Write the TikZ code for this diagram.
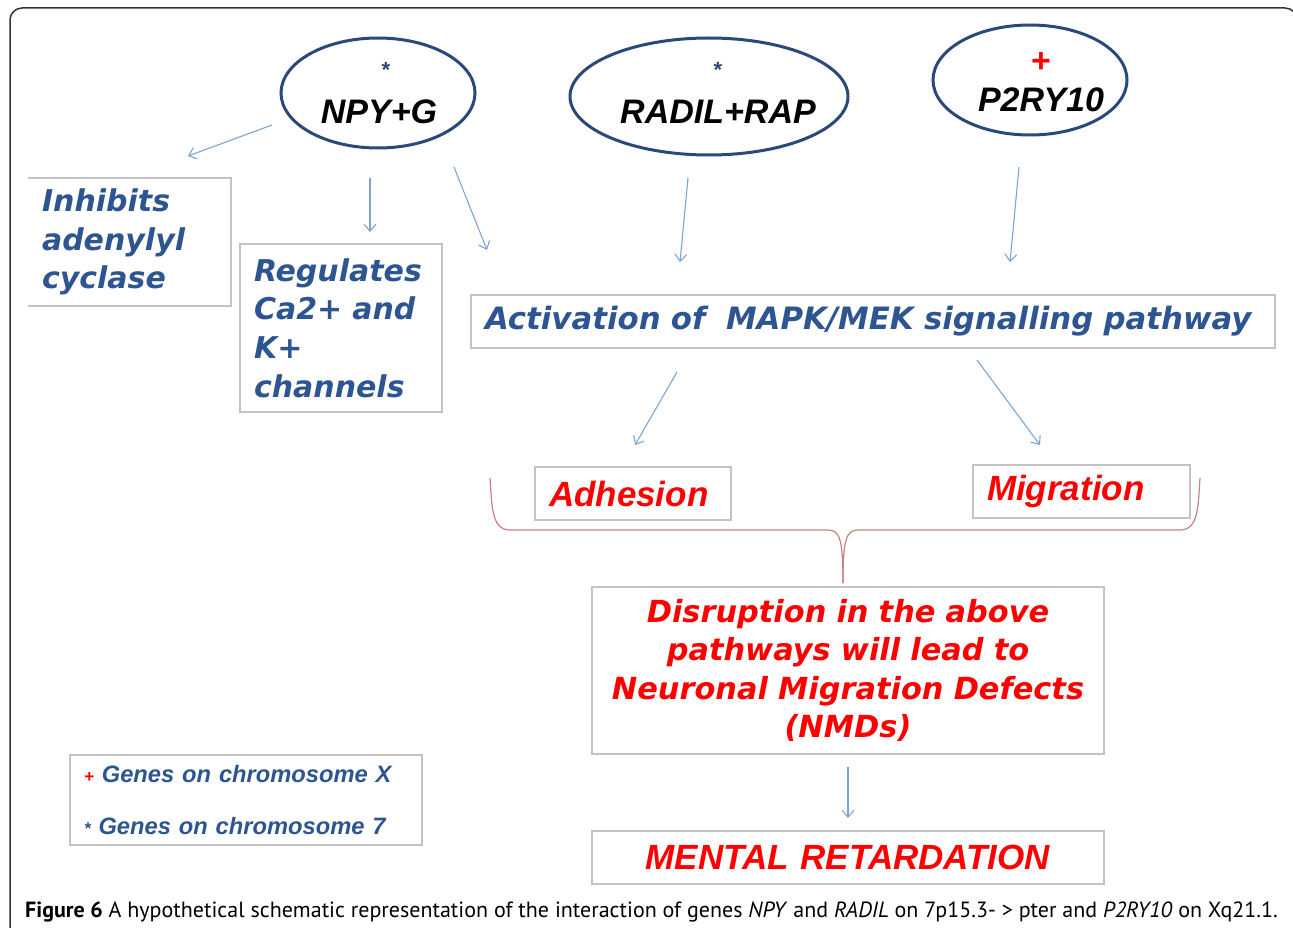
\documentclass[tikz,border=0pt]{standalone}
\usepackage{fontspec}
\setmainfont{Liberation Sans}
\newfontfamily\widef{DejaVu Sans}
\newfontfamily\capf{PT Sans}
\usetikzlibrary{shapes.geometric,arrows.meta}
\definecolor{boxblue}{RGB}{45,85,145}
\definecolor{ellblue}{RGB}{42,72,122}
\definecolor{arrowblue}{RGB}{125,163,212}
\definecolor{boxgray}{RGB}{195,195,195}
\definecolor{bracered}{RGB}{200,130,130}
\definecolor{pured}{RGB}{255,0,0}
\newcommand{\legmark}[1]{{\fontsize{17}{17}\selectfont #1}}
\begin{document}
\begin{tikzpicture}[x=1pt,y=-1pt,
  every node/.style={inner sep=0pt},
  gene/.style={ellipse, draw=ellblue, line width=3pt},
  genetext/.style={font=\fontsize{34}{40}\selectfont\bfseries\itshape, text=black},
  starmark/.style={font=\fontsize{22}{24}\selectfont\bfseries, text=ellblue},
  box/.style={draw=boxgray, line width=1.6pt, inner xsep=14pt},
  bluetext/.style={font=\widef\fontsize{30}{38.6}\selectfont\bfseries\itshape, text=boxblue},
  redwide/.style={font=\widef\fontsize{30.4}{38.6}\selectfont\bfseries\itshape, text=pured},
  redtext/.style={font=\fontsize{35}{40}\selectfont\bfseries\itshape, text=pured},
  legtext/.style={font=\fontsize{23.7}{52}\selectfont\bfseries\itshape, text=boxblue},
  conn/.style={draw=arrowblue, line width=1.1pt, -{Straight Barb[length=7pt,width=12pt]}},
  brace/.style={draw=bracered, line width=1.2pt},
]
\useasboundingbox (0,0) rectangle (1293,928);
% outer frame
\draw[line width=1.5pt, black!80, rounded corners=12pt] (10,940) -- (10,8) -- (1297,8) -- (1297,940);

% gene ellipses
\node[gene, minimum width=194pt, minimum height=110pt] (npy) at (378,93) {};
\node[starmark] (npystar) at (386,70) {*};
\node[genetext] (npyl) at (379,112) {NPY+G};

\node[gene, minimum width=278pt, minimum height=117pt] (radil) at (709,96.5) {};
\node[starmark] (radilstar) at (718,70) {*};
\node[genetext] (radill) at (718,112) {RADIL+RAP};

\node[gene, minimum width=194pt, minimum height=110pt] (p2ry) at (1030,80) {};
\node[font=\fontsize{34}{40}\selectfont\bfseries, text=pured] (p2plus) at (1041,63) {+};
\node[genetext] (p2l) at (1041,100) {P2RY10};

% boxes
\node[bluetext, inner xsep=14pt, text width=175pt, minimum height=128pt, align=left] (inh) at (129.5,242) {Inhibits\\adenylyl\\cyclase};
\draw[boxgray, line width=1.6pt] (inh.north west) -- (inh.north east) -- (inh.south east) -- (inh.south west);

\node[box, bluetext, text width=174pt, minimum height=168pt, align=left] (reg) at (341,328) {Regulates\\Ca2+ and\\K+\\channels};

\node[box, bluetext, font=\widef\fontsize{30.8}{38.6}\selectfont\bfseries\itshape, text width=776pt, minimum height=53pt, align=left] (act) at (873,321.5) {Activation of \ MAPK/MEK signalling pathway};

\node[box, redtext, text width=168pt, minimum height=53pt, align=left] (adh) at (633,493.5) {Adhesion};
\node[box, redtext, text width=189pt, minimum height=53pt, align=left] (mig) at (1081.5,491.5) {Migration};

\node[box, redwide, text width=484pt, minimum height=167pt, align=center] (dis) at (848,670.5) {Disruption in the above\\pathways will lead to\\Neuronal Migration Defects\\(NMDs)};

\node[box, redtext, text width=484pt, minimum height=53pt, align=center] (mr) at (848,857.5) {MENTAL RETARDATION};

\node[box, legtext, text width=324pt, minimum height=90pt, align=left] (leg) at (246,800) {\legmark{\color{pured}+} Genes on chromosome X\\{}\legmark{*} Genes on chromosome 7};

% connector end points
\coordinate (a1s) at (272,125); \coordinate (a1e) at (188,156);
\coordinate (a2s) at (370,178); \coordinate (a2e) at (370,232);
\coordinate (a3s) at (454,167); \coordinate (a3e) at (487,250);
\coordinate (a4s) at (688,178); \coordinate (a4e) at (680,262);
\coordinate (a5s) at (1019,167); \coordinate (a5e) at (1010,262);
\coordinate (a6s) at (677,372); \coordinate (a6e) at (635,445);
\coordinate (a7s) at (977,360); \coordinate (a7e) at (1040,445);
\coordinate (a8s) at (848,767); \coordinate (a8e) at (848,818);
\draw[conn] (a1s) -- (a1e);
\draw[conn] (a2s) -- (a2e);
\draw[conn] (a3s) -- (a3e);
\draw[conn] (a4s) -- (a4e);
\draw[conn] (a5s) -- (a5e);
\draw[conn] (a6s) -- (a6e);
\draw[conn] (a7s) -- (a7e);
\draw[conn] (a8s) -- (a8e);

% brace
\coordinate (brl) at (490,478);
\coordinate (brr) at (1200,478);
\coordinate (brtip) at (843,583);
\draw[brace] (brl) .. controls (492,505) and (491,530) .. (510,530) -- (828,530) .. controls (840,530) and (843,540) .. (brtip);
\draw[brace] (brr) .. controls (1198,505) and (1199,530) .. (1180,530) -- (858,530) .. controls (846,530) and (843,540) .. (brtip);

% caption
\node[font=\capf\fontsize{22}{26}\selectfont, anchor=base west] (cap) at (25,917) {\textbf{Figure 6} A hypothetical schematic representation of the interaction of genes \textit{NPY} and \textit{RADIL} on 7p15.3- > pter and \textit{P2RY10} on Xq21.1.};
\end{tikzpicture}
\end{document}
